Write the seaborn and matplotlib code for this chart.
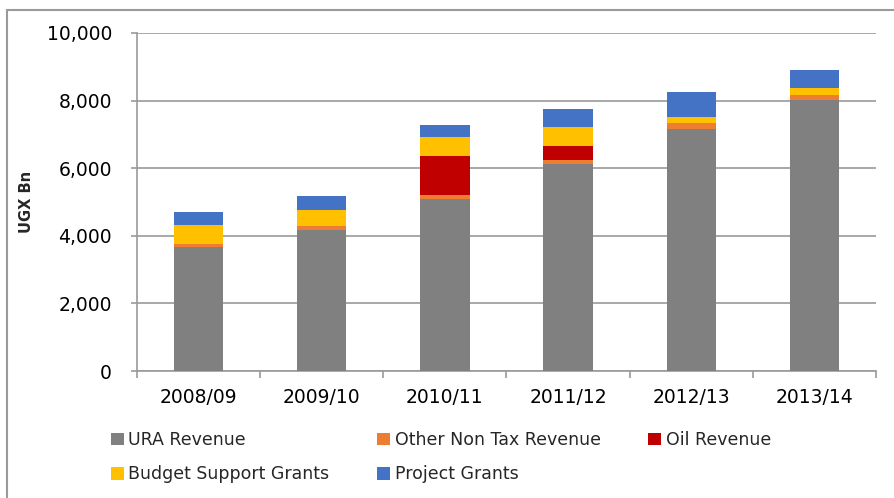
import matplotlib
matplotlib.use("Agg")
import matplotlib.pyplot as plt
from matplotlib.patches import Patch
from matplotlib.lines import Line2D
import numpy as np
import pandas as pd
import seaborn as sns

years = ["2008/09", "2009/10", "2010/11", "2011/12", "2012/13", "2013/14"]
ura_revenue = [3665, 4168, 5093, 6139, 7154, 8031]
other_non_tax = [98, 127, 100, 98, 186, 137]
oil_revenue = [0, 0, 1170, 414, 0, 0]
budget_support = [553, 473, 562, 562, 189, 218]
project_grants = [375, 405, 367, 532, 727, 512]

series_names = ["URA Revenue", "Other Non Tax Revenue", "Oil Revenue",
                "Budget Support Grants", "Project Grants"]
series_values = [ura_revenue, other_non_tax, oil_revenue, budget_support, project_grants]
colors = ["#808080", "#ED7D31", "#C00000", "#FFC000", "#4472C4"]

sns.set_theme(style="white")
plt.rcParams["font.family"] = ["DejaVu Sans"]

fig = plt.figure(figsize=(8.94, 4.98), dpi=100)
ax = fig.add_axes([137 / 894, 1 - 371 / 498, (876 - 137) / 894, (371 - 33) / 498])

# stacked bars: draw cumulative totals from the top layer down
cum = np.cumsum(np.array(series_values, dtype=float), axis=0)
for i in range(len(series_names) - 1, -1, -1):
    df = pd.DataFrame({"year": years, "value": cum[i]})
    sns.barplot(data=df, x="year", y="value", color=colors[i], width=0.4,
                saturation=1, ax=ax, zorder=3, linewidth=0)

ax.set_ylim(0, 10000)
ax.set_xlim(-0.5, 5.5)
ax.set_yticks(np.arange(0, 10001, 2000))
ax.set_yticklabels([f"{v:,}" for v in range(0, 10001, 2000)])
ax.yaxis.grid(True, color="#9a9a9a", linewidth=1.2, zorder=0)
ax.set_axisbelow(True)

for s in ["top", "right"]:
    ax.spines[s].set_visible(False)
for s in ["left", "bottom"]:
    ax.spines[s].set_color("#9a9a9a")
    ax.spines[s].set_linewidth(1.2)

ax.tick_params(axis="y", direction="out", length=4, width=1.2, color="#9a9a9a",
               pad=14, labelsize=13.5, labelcolor="#000000", left=True)
ax.tick_params(axis="x", which="major", length=0, pad=12, labelsize=13.5,
               labelcolor="#000000")
ax.set_xticks(np.arange(-0.5, 6.0, 1.0), minor=True)
ax.tick_params(axis="x", which="minor", direction="out", length=5, width=1.2,
               color="#9a9a9a", bottom=True)

ax.set_xlabel("")
ax.set_ylabel("UGX Bn", fontsize=10.5, fontweight="bold")
ax.yaxis.set_label_coords(-0.139, 0.5)

handles = [Patch(facecolor=c, edgecolor="none") for c in colors]
order = [0, 3, 1, 4, 2]
fig.legend([handles[i] for i in order], [series_names[i] for i in order],
           ncol=3, loc="upper left", bbox_to_anchor=(104 / 894, 1 - 424 / 498),
           frameon=False, fontsize=12.5, handlelength=0.75, handleheight=0.75,
           handletextpad=0.25, columnspacing=2.75, labelspacing=0.95,
           borderaxespad=0)

# outer chart border
fig.add_artist(Line2D([6.5 / 894, 6.5 / 894], [0, 1 - 10 / 498],
                      transform=fig.transFigure, color="#9a9a9a", linewidth=1.5))
fig.add_artist(Line2D([6.5 / 894, 1], [1 - 10 / 498, 1 - 10 / 498],
                      transform=fig.transFigure, color="#9a9a9a", linewidth=1.5))

fig.savefig("out.png", dpi=100)
